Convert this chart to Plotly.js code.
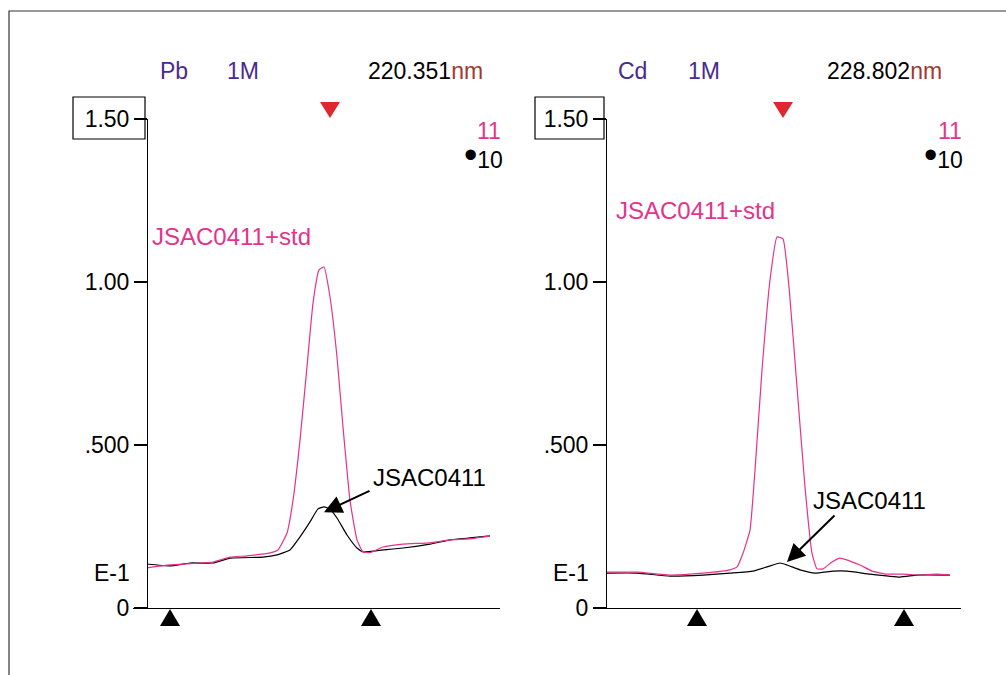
<!DOCTYPE html>
<html>
<head>
<meta charset="utf-8">
<script src="https://cdn.plot.ly/plotly-3.0.1.min.js"></script>
<style>html,body{margin:0;padding:0;background:#fff;}#chart{width:1006px;height:675px;}</style>
</head>
<body>
<div id="chart"></div>
<script>
// ---------------- DATA ----------------
// Time (s) and absorbance readings, Pb 220.351 nm panel
const pbStdT      = [0.00,0.23,0.66,0.83,1.00,1.23,1.31,1.40,1.46,1.53,1.60,1.66,1.72,1.77,1.83,1.90,1.96,2.03,2.10,2.16,2.23,2.36,2.56,2.83,3.03,3.23,3.43];
const pbStdY      = [0.123,0.132,0.141,0.156,0.160,0.169,0.178,0.230,0.330,0.515,0.740,0.935,1.037,1.046,0.954,0.770,0.555,0.330,0.209,0.172,0.170,0.187,0.196,0.200,0.209,0.212,0.221];
const pbSampleT   = [0.00,0.23,0.43,0.66,0.83,1.16,1.30,1.43,1.53,1.63,1.71,1.77,1.83,1.90,2.00,2.10,2.16,2.36,2.56,2.83,3.03,3.23,3.43];
const pbSampleY   = [0.135,0.129,0.138,0.138,0.153,0.156,0.163,0.178,0.218,0.264,0.304,0.310,0.304,0.276,0.224,0.184,0.172,0.178,0.184,0.196,0.209,0.215,0.221];
// Cd 228.802 nm panel
const cdStdT      = [0.00,0.31,0.64,0.97,1.24,1.31,1.37,1.44,1.49,1.56,1.64,1.71,1.77,1.83,1.91,1.99,2.06,2.11,2.17,2.26,2.34,2.44,2.54,2.66,2.81,2.97,3.14,3.31,3.44];
const cdStdY      = [0.110,0.110,0.101,0.107,0.117,0.126,0.168,0.239,0.423,0.730,1.006,1.138,1.132,0.985,0.678,0.371,0.168,0.120,0.120,0.141,0.153,0.144,0.132,0.113,0.104,0.104,0.101,0.104,0.101];
const cdSampleT   = [0.00,0.31,0.64,0.97,1.24,1.47,1.61,1.74,1.81,1.94,2.09,2.27,2.41,2.64,2.94,3.11,3.44];
const cdSampleY   = [0.107,0.107,0.098,0.101,0.107,0.113,0.126,0.138,0.132,0.117,0.107,0.113,0.113,0.104,0.095,0.101,0.101];

// integration window markers (time) and peak marker
const pbWindow = [0.23, 2.24];
const cdWindow = [0.91, 2.98];
const pbPeakT = [1.83];
const cdPeakT = [1.77];

// labels
const elements   = ['Pb', 'Cd'];
const conc       = ['1M', '1M'];
const wavelength = ['220.351', '228.802'];
const stdName    = 'JSAC0411+std';
const sampleName = 'JSAC0411';
const yTickVals  = [0, 0.5, 1.0, 1.5];
const yTickText  = ['0', '.500', '1.00', '1.50'];

// ---------------- LAYOUT ----------------
const W = 1006, H = 675;
const px = x => x / W;
const py = y => 1 - y / H;
const FONT = 'Liberation Sans, Arial, sans-serif';
const MAG = '#e5338b';
const PURP = '#4a2a8e';
const BROWN = '#a3382f';
const RED = '#e0262f';
const FS = 23;
const FSL = 24;

const Y0PX = 608, Y150PX = 119;           // pixel rows of 0 and 1.5
const yDomain = [py(Y0PX), py(Y150PX)];

function lineTrace(x, y, color, xa, ya) {
  return {x, y, type: 'scatter', mode: 'lines', xaxis: xa, yaxis: ya,
    line: {color, width: 1.2, shape: 'spline', smoothing: 0.4}, hoverinfo: 'skip'};
}

const traces = [
  lineTrace(pbSampleT, pbSampleY, '#000', 'x', 'y'),
  lineTrace(pbStdT, pbStdY, MAG, 'x', 'y'),
  lineTrace(cdSampleT, cdSampleY, '#000', 'x2', 'y2'),
  lineTrace(cdStdT, cdStdY, MAG, 'x2', 'y2')
];

const yAxisBase = {
  range: [0, 1.5], domain: yDomain, showgrid: false, zeroline: false,
  showline: true, linecolor: '#000', linewidth: 1.2,
  ticks: 'outside', ticklen: 13, tickwidth: 1.2, tickcolor: '#000',
  tickvals: yTickVals, ticktext: yTickText,
  tickfont: {family: FONT, size: FS, color: '#000'}, fixedrange: true
};
const xAxisBase = {
  showgrid: false, zeroline: false, showline: true, linecolor: '#000', linewidth: 1.2,
  showticklabels: false, ticks: '', fixedrange: true
};

function ann(text, x, y, xanchor, color, size) {
  return {text, x: px(x), y: py(y), xref: 'paper', yref: 'paper', xanchor, yanchor: 'middle',
    showarrow: false, font: {family: FONT, size: size || FS, color}};
}

const annotations = [
  // headers
  ann(elements[0], 158, 71, 'left', PURP),
  ann(conc[0], 225, 71, 'left', PURP),
  ann(wavelength[0] + '<span style="color:' + BROWN + '">nm</span>', 485, 71, 'right', '#000'),
  ann(elements[1], 616, 71, 'left', PURP),
  ann(conc[1], 686, 71, 'left', PURP),
  ann(wavelength[1] + '<span style="color:' + BROWN + '">nm</span>', 944, 71, 'right', '#000'),
  // replicate numbers
  ann('11', 503, 131, 'right', MAG),
  ann('<span style="font-size:38px">•</span>10', 505, 155, 'right', '#000'),
  ann('11', 964, 131, 'right', MAG),
  ann('<span style="font-size:38px">•</span>10', 965, 155, 'right', '#000'),
  // series labels
  ann(stdName, 150, 236, 'left', MAG, FSL),
  ann(stdName, 614, 211, 'left', MAG, FSL),
  ann(sampleName, 371, 477, 'left', '#000', FSL),
  ann(sampleName, 811, 500, 'left', '#000', FSL),
  // exponent labels
  ann('E-1', 132, 573, 'right', '#000'),
  ann('E-1', 591, 573, 'right', '#000'),
  // arrows
  {text: '', x: pbPeakT[0] - 0.06, y: 0.294, xref: 'x', yref: 'y', showarrow: true,
    ax: 47, ay: -22, arrowhead: 2, arrowsize: 1.8, arrowwidth: 2, arrowcolor: '#000', standoff: 0},
  {text: '', x: cdPeakT[0] + 0.04, y: 0.141, xref: 'x2', yref: 'y2', showarrow: true,
    ax: 49, ay: -48, arrowhead: 2, arrowsize: 1.8, arrowwidth: 2, arrowcolor: '#000', standoff: 0}
];

// triangle markers: anchored at data x, drawn in pixel units
function triUp(xv, xref) {
  return {type: 'path', xref, yref: 'paper', xsizemode: 'pixel', ysizemode: 'pixel',
    xanchor: xv, yanchor: py(Y0PX), path: 'M0,-1 L-10,-18 L10,-18 Z',
    fillcolor: '#000', line: {width: 0}, layer: 'above'};
}
function triDown(xv, xref) {
  return {type: 'path', xref, yref: 'paper', xsizemode: 'pixel', ysizemode: 'pixel',
    xanchor: xv, yanchor: py(Y150PX), path: 'M0,1 L-10,17 L10,17 Z',
    fillcolor: RED, line: {width: 0}, layer: 'above'};
}

const shapes = [
  // outer frame
  {type: 'rect', xref: 'paper', yref: 'paper', x0: px(9), x1: 1.02, y0: -0.03, y1: py(11),
    line: {color: '#333', width: 1.2}},
  // boxes around 1.50 labels
  {type: 'rect', xref: 'paper', yref: 'paper', x0: px(73), x1: px(145), y0: py(139), y1: py(97),
    line: {color: '#000', width: 1.2}},
  {type: 'rect', xref: 'paper', yref: 'paper', x0: px(535), x1: px(604), y0: py(139), y1: py(97),
    line: {color: '#000', width: 1.2}}
]
  .concat(pbWindow.map(v => triUp(v, 'x')))
  .concat(cdWindow.map(v => triUp(v, 'x2')))
  .concat(pbPeakT.map(v => triDown(v, 'x')))
  .concat(cdPeakT.map(v => triDown(v, 'x2')));

const layout = {
  width: W, height: H, margin: {l: 0, r: 0, t: 0, b: 0},
  paper_bgcolor: '#fff', plot_bgcolor: 'rgba(0,0,0,0)', showlegend: false,
  font: {family: FONT, size: FS, color: '#000'},
  xaxis: Object.assign({}, xAxisBase, {domain: [px(133), px(500)], range: [-0.14, 3.53], anchor: 'y'}),
  yaxis: Object.assign({}, yAxisBase, {anchor: 'free', position: px(147)}),
  xaxis2: Object.assign({}, xAxisBase, {domain: [px(593), px(961)], range: [-0.13, 3.55], anchor: 'y2'}),
  yaxis2: Object.assign({}, yAxisBase, {anchor: 'free', position: px(606)}),
  annotations, shapes
};

Plotly.newPlot('chart', traces, layout, {staticPlot: true, displayModeBar: false});
</script>
</body>
</html>
